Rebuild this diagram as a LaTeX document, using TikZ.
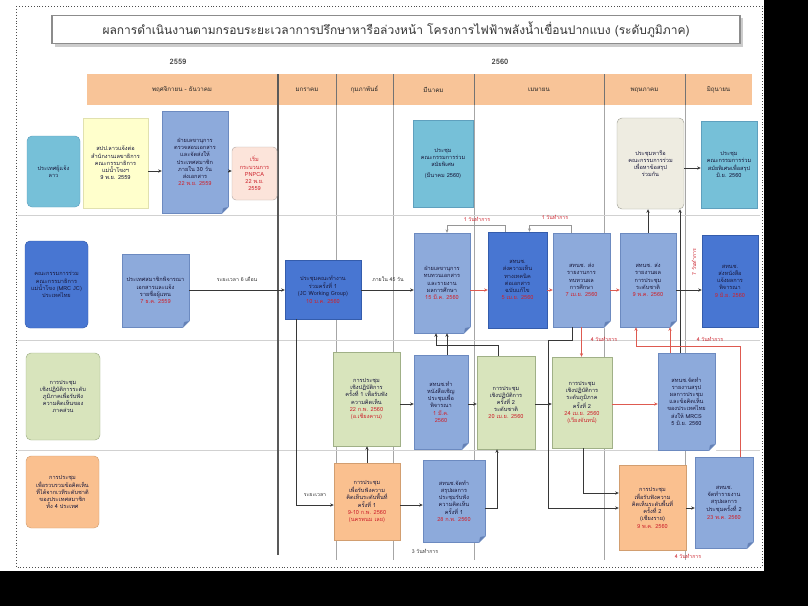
\documentclass[tikz,border=0pt]{standalone}
\usepackage{fontspec}
\newfontfamily\thaifont[Script=Thai]{Loma}
\usetikzlibrary{arrows.meta,calc}
\definecolor{cyanc}{RGB}{118,192,216}
\definecolor{cyand}{RGB}{95,160,190}
\definecolor{yelc}{RGB}{255,255,204}
\definecolor{yeld}{RGB}{225,225,175}
\definecolor{pinkc}{RGB}{252,228,218}
\definecolor{pinkd}{RGB}{185,175,170}
\definecolor{beigec}{RGB}{238,236,225}
\definecolor{beiged}{RGB}{165,165,155}
\definecolor{greenc}{RGB}{216,228,188}
\definecolor{greend}{RGB}{160,176,135}
\definecolor{orc}{RGB}{250,192,143}
\definecolor{ord}{RGB}{210,158,112}
\definecolor{bandc}{RGB}{248,196,152}
\definecolor{docc}{RGB}{141,170,219}
\definecolor{docd}{RGB}{108,138,192}
\definecolor{foldc}{RGB}{100,128,180}
\definecolor{darkc}{RGB}{72,118,210}
\definecolor{darkd}{RGB}{52,92,172}
\definecolor{txtc}{RGB}{25,25,60}
\definecolor{redc}{RGB}{205,35,45}
\definecolor{arrc}{RGB}{55,55,55}
\definecolor{glinec}{RGB}{150,150,150}
\definecolor{rlinec}{RGB}{222,90,80}
\newcommand\bxfont{\thaifont\fontsize{5.6}{7.2}\selectfont}
\newcommand\mkfold[1]{%
  \fill[white] ($(#1.south east)+(-6.8,0.9)$) -- ($(#1.south east)+(0.9,0.9)$) -- ($(#1.south east)+(0.9,-6.8)$) -- cycle;
  \filldraw[fill=foldc, draw=docd, line width=0.4pt] ($(#1.south east)+(-6,0)$) -- ($(#1.south east)+(0,-6)$) -- ($(#1.south east)+(-5,-5)$) -- cycle;}
\begin{document}
\begin{tikzpicture}[x=1pt,y=-1pt,
  base/.style={inner sep=1pt, align=center, font=\bxfont, text=txtc, line width=0.45pt},
  lanecy/.style={base, rounded corners=5pt, fill=cyanc, draw=cyand},
  lanedk/.style={base, rounded corners=5pt, fill=darkc, draw=darkd},
  lanegr/.style={base, rounded corners=5pt, fill=greenc, draw=greend},
  laneor/.style={base, rounded corners=5pt, fill=orc, draw=ord},
  cybox/.style={base, fill=cyanc, draw=cyand},
  yelbox/.style={base, fill=yelc, draw=yeld},
  pinkbox/.style={base, rounded corners=4pt, fill=pinkc, draw=pinkd, text=redc},
  beigebox/.style={base, rounded corners=5pt, fill=beigec, draw=beiged},
  docbox/.style={base, fill=docc, draw=docd},
  darkbox/.style={base, fill=darkc, draw=darkd},
  grbox/.style={base, fill=greenc, draw=greend},
  orbox/.style={base, fill=orc, draw=ord},
  monthlab/.style={inner sep=0pt, font=\thaifont\fontsize{6.2}{7}\selectfont, text=black!85},
  yearlab/.style={inner sep=0pt, font=\thaifont\bfseries\fontsize{7.5}{8}\selectfont, text=black!75},
  rlab/.style={inner sep=0.5pt, font=\thaifont\fontsize{5.2}{6}\selectfont, text=redc},
  klab/.style={inner sep=0.5pt, font=\thaifont\fontsize{5.2}{6}\selectfont, text=black!80},
  arr/.style={draw=arrc, line width=0.6pt, -{Stealth[length=3.6pt,width=3.2pt]}},
  garr/.style={draw=glinec, line width=0.9pt, -{Stealth[length=3.4pt,width=3pt]}},
  rarr/.style={draw=rlinec, line width=0.7pt, -{Stealth[length=3.6pt,width=3.2pt]}},
  divthin/.style={draw=black!35, line width=0.5pt},
  laneline/.style={draw=black!18, line width=0.6pt}]
\useasboundingbox (0,0) rectangle (808,606);
\fill[black] (0,0) rectangle (808,606);
\fill[white] (0,0) rectangle (764,571);
\draw[dotted, line width=0.9pt, black!70] (16,6) rectangle (762,567);

% title
\fill[black!20] (55,18) rectangle (743,47);
\node[draw=black!45, line width=1.5pt, fill=white, minimum width=688, minimum height=28, inner sep=0pt,
      font=\thaifont\fontsize{12}{13}\selectfont, text=black!80] (title) at (396,29.5)
  {ผลการดำเนินงานตามกรอบระยะเวลาการปรึกษาหารือล่วงหน้า โครงการไฟฟ้าพลังน้ำเขื่อนปากแบง (ระดับภูมิภาค)};

% years
\node[yearlab] (y59) at (178,62) {2559};
\node[yearlab] (y60) at (500,62) {2560};

% header band
\fill[bandc] (87,74) rectangle (752,105);
\foreach \xx in {336,393,474,604,685} {\draw[divthin] (\xx,105) -- (\xx,560);
  \draw[draw=black!55, line width=0.5pt] (\xx,74) -- (\xx,105);}
\draw[laneline] (18,215) -- (760,215);
\draw[laneline] (18,340) -- (760,340);
\draw[laneline] (18,450) -- (760,450);
\draw[draw=black!65, line width=1.3pt] (278,74) -- (278,555);

\node[monthlab] (m1) at (182,90) {พฤศจิกายน - ธันวาคม};
\node[monthlab] (m2) at (307,90) {มกราคม};
\node[monthlab] (m3) at (364.5,90) {กุมภาพันธ์};
\node[monthlab] (m4) at (433.5,90) {มีนาคม};
\node[monthlab] (m5) at (539,90) {เมษายน};
\node[monthlab] (m6) at (644.5,90) {พฤษภาคม};
\node[monthlab] (m7) at (718.5,90) {มิถุนายน};

% lane labels
\node[lanecy, minimum width=53, minimum height=71] (lab1) at (53.5,171.5) {ประเทศผู้แจ้ง\\ลาว};
\node[lanedk, minimum width=63, minimum height=87] (lab2) at (56.5,284.5)
  {คณะกรรมการร่วม\\คณะกรรมาธิการ\\แม่น้ำโขง (MRC JC)\\ประเทศไทย};
\node[lanegr, minimum width=74, minimum height=87] (lab3) at (63,396.5)
  {การประชุม\\เชิงปฏิบัติการระดับ\\ภูมิภาคเพื่อรับฟัง\\ความคิดเห็นของ\\ภาคส่วน};
\node[laneor, minimum width=73, minimum height=72] (lab4) at (62.5,492)
  {การประชุม\\เพื่อรวบรวมข้อคิดเห็น\\ที่ได้จากเวทีระดับชาติ\\ของประเทศสมาชิก\\ทั้ง 4 ประเทศ};

% row 1
\node[yelbox, minimum width=65, minimum height=90] (yel) at (115.5,163)
  {สปป.ลาวแจ้งต่อ\\สำนักงานเลขาธิการ\\คณะกรรมาธิการ\\แม่น้ำโขงฯ\\9 พ.ย. 2559};
\node[docbox, minimum width=66, minimum height=102] (doc1) at (195,162)
  {ฝ่ายเลขานุการ\\ตรวจสอบเอกสาร\\และจัดส่งให้\\ประเทศสมาชิก\\ภายใน 30 วัน\\ส่งเอกสาร\\\textcolor{redc}{22 พ.ย. 2559}};
\mkfold{doc1}
\node[pinkbox, minimum width=45, minimum height=53] (pink) at (254.5,173.5)
  {เริ่ม\\กระบวนการ\\PNPCA\\22 พ.ย.\\2559};
\node[cybox, minimum width=60, minimum height=87] (cyM) at (443,163.5)
  {ประชุม\\คณะกรรมการร่วม\\สมัยพิเศษ\\[4pt](มีนาคม 2560)};
\node[beigebox, minimum width=67, minimum height=91] (beige) at (650.5,163.5)
  {ประชุมหารือ\\คณะกรรมการร่วม\\เพื่อหาข้อสรุป\\ร่วมกัน};
\node[cybox, minimum width=56, minimum height=87] (cyJ) at (729,164.5)
  {ประชุม\\คณะกรรมการร่วม\\สมัยพิเศษเพื่อสรุป\\มิ.ย. 2560};

% row 2
\node[docbox, minimum width=67, minimum height=73] (doc2) at (155.5,290.5)
  {ประเทศสมาชิกพิจารณา\\เอกสารและแจ้ง\\รายชื่อผู้แทน\\\textcolor{redc}{7 ธ.ค. 2559}};
\mkfold{doc2}
\node[darkbox, minimum width=76, minimum height=59] (jan) at (323,289.5)
  {ประชุมคณะทำงาน\\ร่วมครั้งที่ 1\\(JC Working Group)\\\textcolor{redc}{10 ม.ค. 2560}};
\node[docbox, minimum width=56, minimum height=100] (A) at (442,283)
  {ฝ่ายเลขานุการ\\ทบทวนเอกสาร\\และรายงาน\\ผลการศึกษา\\\textcolor{redc}{15 มี.ค. 2560}};
\mkfold{A}
\node[darkbox, minimum width=59, minimum height=96] (B) at (517.5,280)
  {สทนช.\\ส่งความเห็น\\ทางเทคนิค\\ต่อเอกสาร\\ฉบับแก้ไข\\\textcolor{redc}{5 เม.ย. 2560}};
\node[docbox, minimum width=57, minimum height=94] (C) at (581.5,280)
  {สทนช. ส่ง\\รายงานการ\\ทบทวนผล\\การศึกษา\\\textcolor{redc}{7 เม.ย. 2560}};
\mkfold{C}
\node[docbox, minimum width=56, minimum height=94] (D) at (648,280)
  {สทนช. ส่ง\\รายงานผล\\การประชุม\\ระดับชาติ\\\textcolor{redc}{9 พ.ค. 2560}};
\mkfold{D}
\node[darkbox, minimum width=56, minimum height=92] (E) at (730,281)
  {สทนช.\\ส่งหนังสือ\\แจ้งผลการ\\พิจารณา\\\textcolor{redc}{9 มิ.ย. 2560}};

% row 3
\node[grbox, minimum width=67, minimum height=94] (gF) at (366.5,399)
  {การประชุม\\เชิงปฏิบัติการ\\ครั้งที่ 1 เพื่อรับฟัง\\ความคิดเห็น\\\textcolor{redc}{22 ก.พ. 2560}\\\textcolor{redc}{(อ.เชียงคาน)}};
\node[docbox, minimum width=54, minimum height=94] (F) at (441,402)
  {สทนช.ทำ\\หนังสือเชิญ\\ประชุมเพื่อ\\พิจารณา\\\textcolor{redc}{1 มี.ค.}\\\textcolor{redc}{2560}};
\mkfold{F}
\node[grbox, minimum width=58, minimum height=93] (G) at (506,402.5)
  {การประชุม\\เชิงปฏิบัติการ\\ครั้งที่ 2\\ระดับชาติ\\\textcolor{redc}{20 เม.ย. 2560}};
\node[grbox, minimum width=60, minimum height=91] (H) at (582,402.5)
  {การประชุม\\เชิงปฏิบัติการ\\ระดับภูมิภาค\\ครั้งที่ 2\\\textcolor{redc}{24 เม.ย. 2560}\\\textcolor{redc}{(เวียงจันทน์)}};
\node[docbox, minimum width=57, minimum height=97] (I) at (686.5,401.5)
  {สทนช.จัดทำ\\รายงานสรุป\\ผลการประชุม\\และข้อคิดเห็น\\ของประเทศไทย\\ส่งให้ MRCS\\5 มิ.ย. 2560};
\mkfold{I}

% row 4
\node[orbox, minimum width=66, minimum height=77] (oF) at (367,501.5)
  {การประชุม\\เพื่อรับฟังความ\\คิดเห็นระดับพื้นที่\\ครั้งที่ 1\\\textcolor{redc}{9-10 ก.พ. 2560}\\\textcolor{redc}{(นครพนม เลย)}};
\node[docbox, minimum width=62, minimum height=82] (J) at (454,501)
  {สทนช.จัดทำ\\สรุปผลการ\\ประชุมรับฟัง\\ความคิดเห็น\\ครั้งที่ 1\\\textcolor{redc}{28 ก.พ. 2560}};
\mkfold{J}
\node[orbox, minimum width=67, minimum height=85] (K) at (652.5,507.5)
  {การประชุม\\เพื่อรับฟังความ\\คิดเห็นระดับพื้นที่\\ครั้งที่ 2\\(เชียงราย)\\\textcolor{redc}{9 พ.ค. 2560}};
\node[docbox, minimum width=58, minimum height=91] (L) at (724,502.5)
  {สทนช.\\จัดทำรายงาน\\สรุปผลการ\\ประชุมครั้งที่ 2\\\textcolor{redc}{23 พ.ค. 2560}};
\mkfold{L}

% helper coordinates
\coordinate (r1) at (0,171);
\coordinate (r1b) at (0,168);
\coordinate (r2) at (0,290);
\coordinate (r3) at (0,404);
\coordinate (r4a) at (0,505);
\coordinate (r4b) at (0,508);
\coordinate (r4d) at (0,493);
\coordinate (fa) at ($(F.north)+(6,0)$);
\coordinate (ga) at ($(A.south)+(-6,12)$);
\coordinate (gab) at ($(A.south)+(-6,0)$);
\coordinate (ib) at ($(I.north)+(-6.5,0)$);
\coordinate (id) at ($(I.north)+(-16.5,0)$);
\coordinate (cv) at (548,340);
\coordinate (ld) at ($(D.south)+(-12,19)$);
\coordinate (ldb) at ($(D.south)+(-12,0)$);

% connectors row 1
\draw[arr] (yel.east |- r1) -- (doc1.west |- r1);
\draw[arr] (doc1.east |- r1) -- (pink.west |- r1);
\draw[arr] (beige.east |- r1b) -- (cyJ.west |- r1b);
\draw[arr] (D.north) -- (D.north |- beige.south);
\draw[arr] (ib) -- (ib |- beige.south);

% row 2
\draw[arr] (doc2.east |- r2) -- (jan.west |- r2);
\node[klab] (t1) at (237,279) {ระยะเวลา 6 เดือน};
\draw[arr] (jan.east |- r2) -- (A.west |- r2);
\node[klab] (t2) at (388,279) {ภายใน 45 วัน};
\draw[rarr] (A.east |- r2) -- (B.west |- r2);
\draw[rarr] (B.east |- r2) -- (C.west |- r2);
\draw[rarr] (C.east |- r2) -- (D.west |- r2);
\draw[arr] (D.east |- r2) -- (E.west |- r2);
\draw[garr] ($(B.north)+(-12,0)$) -- ++(0,-6) -| ($(A.north)+(5,0)$);
\draw[garr] ($(C.north)+(-10,0)$) -- ++(0,-7) -| ($(B.north)+(12,0)$);
\node[rlab] (t3) at (477,219) {1 วันทำการ};
\node[rlab] (t4) at (555,217) {1 วันทำการ};
\node[rlab, rotate=90] (t5) at (694,262) {7 วันทำการ};

% row 3
\draw[arr] (oF.north) -- (oF.north |- gF.south);
\draw[arr] (gF.east |- r3) -- (F.west |- r3);
\draw[arr] (F.east |- r3) -- (G.west |- r3);
\draw[arr] (G.east |- r3) -- (H.west |- r3);
\draw[rarr] (H.east |- r3) -- (I.west |- r3);
\draw[arr] (fa) -- (fa |- A.south);
\draw[arr] ($(G.north)+(-8,0)$) |- (ga) -- (gab);
\draw[rarr] (C.south) -- (C.south |- H.north);
\node[rlab] (t6) at (604,339) {4 วันทำการ};
\draw[rarr] ($(L.north)+(16,0)$) |- (ld) -- (ldb);
\draw[rarr] (id) -- (id |- D.south);
\node[rlab] (t7) at (710,339) {4 วันทำการ};

% row 4
\draw[arr] ($(jan.south)+(-27,0)$) |- (oF.west |- r4a);
\node[klab] (t8) at (315,495) {ระยะเวลา};
\draw[arr] (oF.east |- r4a) -- (J.west |- r4a);
\draw[arr] (J.east |- r4b) -| ($(G.south)+(-9,0)$);
\draw[arr] ($(C.south)+(-9.5,0)$) |- (cv) |- (K.west |- r4b);
\draw[arr] ($(H.south)+(1,0)$) |- (K.west |- r4d);
\draw[arr] (K.east |- r4b) -- (L.west |- r4b);
\node[klab] (t9) at (425,551) {3 วันทำการ};
\node[rlab] (t10) at (688,556) {4 วันทำการ};
\end{tikzpicture}
\end{document}
